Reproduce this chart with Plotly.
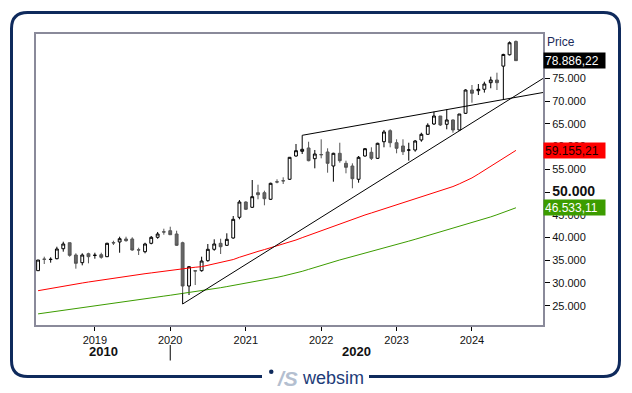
import plotly.graph_objects as go
import pandas as pd

# ---------------- data (monthly candles, Apr 2018 - Aug 2024) ----------------
months = pd.date_range("2018-04-01", periods=77, freq="MS")

open_ = [32700, 35250, 35150, 35335, 37530, 38850, 36150, 34460, 36430, 36050,
         36215, 35775, 38900, 39010, 39670, 39670, 37300, 36875, 38720, 40040,
         41250, 41490, 40770, 38850, 29330, 32700, 32700, 34900, 37400, 38720,
         38280, 39890, 44440, 47800, 46640, 49850, 49850, 48400, 52250, 52500,
         52800, 57920, 58950, 59680, 57325, 58250, 58800, 55720, 58510, 56310,
         55720, 52800, 57920, 58730, 57410, 61060, 63480, 60840, 60120, 59200,
         59240, 61440, 62690, 64960, 66715, 64890, 65840, 63640, 67310, 72430,
         72280, 72590, 74040, 74630, 77680, 80180, 83110]
high = [35050, 35775, 35640, 37970, 39070, 38850, 36520, 36520, 36650, 36650,
        36650, 38850, 39290, 40170, 40170, 40040, 37750, 38850, 40330, 41210,
        41930, 42370, 41490, 39070, 33730, 32850, 35775, 38570, 39600, 39730,
        40920, 44725, 48240, 47960, 52640, 51610, 50290, 52050, 52800, 53235,
        57700, 60560, 60340, 61060, 59240, 61590, 59610, 58640, 60840, 56890,
        56310, 57920, 59680, 59830, 60840, 63640, 63790, 61590, 61590, 60840,
        61440, 63040, 65110, 67660, 66715, 68190, 65990, 67155, 72590, 73530,
        73750, 74260, 75360, 76240, 80400, 83110, 83330]
low = [32650, 34170, 34460, 35200, 36880, 35775, 33140, 33880, 34320, 35335,
       35335, 35700, 38350, 36650, 39070, 37090, 36150, 36520, 38500, 39730,
       40610, 40610, 38130, 27730, 27350, 29550, 32480, 34680, 37090, 36370,
       38130, 39730, 44000, 46040, 46480, 48400, 47080, 48240, 51915, 51760,
       52640, 57765, 58360, 56750, 55210, 57410, 54250, 52270, 56450, 54115,
       50820, 52050, 57765, 57040, 57260, 59830, 59830, 58510, 58140, 56890,
       58860, 61060, 62540, 64740, 64520, 63790, 63040, 63480, 67155, 69640,
       71330, 71860, 72810, 72430, 70390, 80030, 79300]
close = [35050, 35200, 35200, 37470, 38570, 36080, 34320, 36150, 35775, 36100,
         35640, 38720, 38800, 39730, 39300, 37250, 37250, 38570, 40040, 40770,
         41200, 40610, 38280, 29330, 33580, 32630, 34830, 37400, 38570, 37970,
         39600, 44000, 47800, 46200, 48970, 49410, 48530, 51915, 52200, 52450,
         57630, 59085, 59390, 56890, 58360, 58200, 56310, 58510, 56890, 55430,
         52930, 57630, 59525, 57410, 60710, 63200, 60840, 59610, 58860, 59250,
         61220, 62690, 64670, 66715, 64740, 65840, 63640, 67155, 72430, 71710,
         72590, 73750, 74630, 74040, 80250, 82820, 78886.22]

ma_red = [28300, 28560, 28820, 29070, 29330, 29550, 29770, 29990, 30210, 30430,
          30650, 30870, 31090, 31310, 31530, 31700, 31870, 32040, 32210, 32390,
          32560, 32780, 33000, 33220, 33340, 33460, 33580, 33870, 34130, 34400,
          34700, 35150, 35650, 36150, 36550, 36940, 37340, 37730, 38130, 38570,
          39010, 39450, 39960, 40480, 40990, 41510, 42020, 42510, 43000, 43480,
          43970, 44460, 44950, 45390, 45830, 46260, 46700, 47140, 47580, 48020,
          48460, 48900, 49340, 49780, 50220, 50700, 51200, 51800, 52400, 53100,
          53950, 54800, 55700, 56600, 57500, 58300, 59155.21]
ma_green = [23200, 23400, 23590, 23790, 23980, 24180, 24370, 24570, 24760, 24960,
            25160, 25350, 25550, 25740, 25940, 26130, 26330, 26520, 26720, 26910,
            27110, 27300, 27500, 27690, 27880, 28060, 28240, 28480, 28720, 28960,
            29200, 29440, 29680, 29920, 30160, 30400, 30650, 30940, 31230, 31530,
            31830, 32130, 32560, 32990, 33430, 33870, 34320, 34690, 35060, 35430,
            35800, 36170, 36540, 36910, 37280, 37650, 38020, 38400, 38800, 39200,
            39600, 40000, 40400, 40790, 41190, 41590, 41990, 42390, 42790, 43185,
            43620, 44070, 44530, 45000, 45500, 46010, 46533.11]

# trendlines drawn on the chart (anchor points)
trend_up_dates = ["2020-03-01", "2020-03-01", "2025-01-01"]
trend_up_values = [27730, 25374, 75600]
trend_top_dates = ["2021-10-01", "2021-10-01", "2025-01-01"]
trend_top_values = [60340, 62470, 72059]

y_tick_values = [25000, 30000, 35000, 40000, 45000, 50000, 55000, 60000, 65000, 70000, 75000]
y_tick_labels = ["25.000", "30.000", "35.000", "40.000", "45.000",
                 "<span style='font-size:14px'><b>50.000</b></span>",
                 "55.000", "60.000", "65.000", "70.000", "75.000"]
price_label = "78.886,22"
red_label = "59.155,21"
green_label = "46.533,11"
decade_labels = ["2010", "2020"]

# ---------------- layout geometry (window pixels) ----------------
WIN_W, WIN_H = 632, 393
OFF = 8                      # default page margin of the html body
L, R, T, B = 36, 543, 34, 325
PW, PH = R - L, B - T
x_range = [pd.Timestamp("2018-03-22"), pd.Timestamp("2024-12-10")]
y_range = [20756, 84747]


def px(x):
    return (x - L) / PW


def py(y):
    return (B - y) / PH


NAVY = "#0f2a5c"
FONT = "Liberation Sans, Arial, sans-serif"

fig = go.Figure()

fig.add_trace(go.Candlestick(
    x=months, open=open_, high=high, low=low, close=close,
    increasing=dict(line=dict(color="#000000", width=1), fillcolor="#ffffff"),
    decreasing=dict(line=dict(color="#555555", width=1), fillcolor="#666666"),
    whiskerwidth=0, showlegend=False, hoverinfo="skip"))

fig.add_trace(go.Scatter(x=months, y=ma_red, mode="lines",
                         line=dict(color="#ff0000", width=1), showlegend=False, hoverinfo="skip"))
fig.add_trace(go.Scatter(x=months, y=ma_green, mode="lines",
                         line=dict(color="#3c9c00", width=1), showlegend=False, hoverinfo="skip"))
fig.add_trace(go.Scatter(x=trend_up_dates, y=trend_up_values, mode="lines",
                         line=dict(color="#000000", width=1), showlegend=False, hoverinfo="skip"))
fig.add_trace(go.Scatter(x=trend_top_dates, y=trend_top_values, mode="lines",
                         line=dict(color="#000000", width=1), showlegend=False, hoverinfo="skip"))

annotations = []
# price boxes on the right axis
for val, txt, bg, fg in [(close[-1], price_label, "#000000", "#ffffff"),
                         (ma_red[-1], red_label, "#ff0000", "#1a0000"),
                         (ma_green[-1], green_label, "#3c9c00", "#ffffff")]:
    annotations.append(dict(x=1, xref="paper", xanchor="left", y=val, yref="y", yanchor="middle",
                            text=txt, showarrow=False, bgcolor=bg, width=59, height=13,
                            align="left", borderpad=1, font=dict(family=FONT, size=12, color=fg)))
annotations.append(dict(x=px(561), y=py(41.5), xref="paper", yref="paper", text="Price",
                        showarrow=False, xanchor="center", yanchor="middle",
                        font=dict(family=FONT, size=12, color="#1b2b5b")))

# decade labels
split = pd.Timestamp("2020-01-01")
mid1 = x_range[0] + (split - x_range[0]) / 2
mid2 = split + (x_range[1] - split) / 2
for d, txt in zip([mid1, mid2], decade_labels):
    annotations.append(dict(x=d, xref="x", y=py(351.7), yref="paper", text="<b>%s</b>" % txt,
                            showarrow=False, xanchor="center", yanchor="middle",
                            font=dict(family=FONT, size=13, color="#111111")))

# logo
annotations.append(dict(x=px(287), y=py(378), xref="paper", yref="paper", text="<b><i>/S</i></b>",
                        showarrow=False, xanchor="center", yanchor="middle",
                        font=dict(family=FONT, size=21, color="#b4bfd0")))
annotations.append(dict(x=px(332.5), y=py(378), xref="paper", yref="paper", text="websim",
                        showarrow=False, xanchor="center", yanchor="middle",
                        font=dict(family=FONT, size=18, color="#1d3b78")))

shapes = []
# decade separator tick
shapes.append(dict(type="line", xref="x", yref="paper", x0=split, x1=split,
                   y0=py(345), y1=py(360.5), line=dict(color="#000000", width=1)))
# logo dot
shapes.append(dict(type="circle", xref="paper", yref="paper", x0=px(269), x1=px(273.5),
                   y0=py(369.5), y1=py(374), fillcolor=NAVY, line=dict(width=0)))

# rounded outer frame with gap for the logo
lx, rx, ty, by, rad = 11.5, 619.5, 12.5, 376.5, 16
gl, gr = 262, 369


def P(x, y):
    return "%.5f,%.5f" % (px(x), py(y))


path = ("M " + P(gl, by) + " L " + P(lx + rad, by) + " Q " + P(lx, by) + " " + P(lx, by - rad) +
        " L " + P(lx, ty + rad) + " Q " + P(lx, ty) + " " + P(lx + rad, ty) +
        " L " + P(rx - rad, ty) + " Q " + P(rx, ty) + " " + P(rx, ty + rad) +
        " L " + P(rx, by - rad) + " Q " + P(rx, by) + " " + P(rx - rad, by) +
        " L " + P(gr, by))
shapes.append(dict(type="path", xref="paper", yref="paper", path=path,
                   line=dict(color=NAVY, width=3)))

fig.update_layout(
    width=WIN_W - OFF, height=WIN_H - OFF,
    margin=dict(l=L - OFF, r=WIN_W - R, t=T - OFF, b=WIN_H - B),
    paper_bgcolor="#ffffff", plot_bgcolor="#ffffff",
    font=dict(family=FONT, size=11, color="#111111"),
    showlegend=False,
    annotations=annotations, shapes=shapes,
    xaxis=dict(type="date", range=x_range, rangeslider=dict(visible=False),
               tickformat="%Y", dtick="M12", tick0="2019-01-01",
               ticks="outside", ticklen=4, tickcolor="#000000", tickwidth=1,
               showgrid=False, zeroline=False, showline=True, mirror=True,
               linecolor="#8a8a9a", linewidth=2,
               tickfont=dict(family=FONT, size=11, color="#111111")),
    yaxis=dict(range=y_range, side="right", tickvals=y_tick_values, ticktext=y_tick_labels,
               ticks="outside", ticklen=5, tickcolor="#000000", tickwidth=1,
               showgrid=False, zeroline=False, showline=True, mirror=True,
               linecolor="#8a8a9a", linewidth=2,
               tickfont=dict(family=FONT, size=11, color="#111111")),
)

fig.write_html("out.html")
